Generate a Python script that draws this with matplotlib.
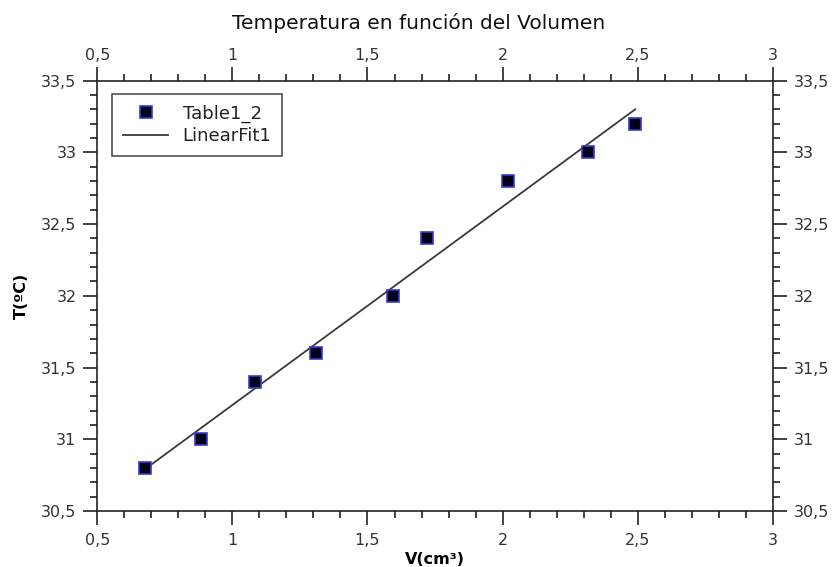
import numpy as np
import matplotlib
matplotlib.use("Agg")
import matplotlib.pyplot as plt
import matplotlib.transforms as mtransforms
from matplotlib.ticker import MultipleLocator, FuncFormatter

# data
volume = [0.677, 0.884, 1.085, 1.311, 1.596, 1.72, 2.02, 2.315, 2.491]
temperature = [30.8, 31.0, 31.4, 31.6, 32.0, 32.4, 32.8, 33.0, 33.2]

x_ticks = [0.5, 1, 1.5, 2, 2.5, 3]
y_ticks = [30.5, 31, 31.5, 32, 32.5, 33, 33.5]

# linear fit over the data
slope, intercept = np.polyfit(volume, temperature, 1)
fit_x = np.array([min(volume), max(volume)])
fit_y = slope * fit_x + intercept

fig = plt.figure(figsize=(8.37, 5.67), dpi=100)
ax = fig.add_axes([0.1163, 0.0988, 0.8069, 0.7589])

ax.plot(volume, temperature, linestyle='none', marker='s', markersize=8,
        markerfacecolor='#000018', markeredgecolor='#3a3acc', markeredgewidth=1.2,
        label='Table1_2', zorder=3)
ax.plot(fit_x, fit_y, color='#3a3a3a', linewidth=1.3, label='LinearFit1', zorder=2)

ax.set_xlim(0.5, 3)
ax.set_ylim(30.5, 33.5)
ax.set_xticks(x_ticks)
ax.set_yticks(y_ticks)
ax.xaxis.set_minor_locator(MultipleLocator(0.1))
ax.yaxis.set_minor_locator(MultipleLocator(0.1))

comma = FuncFormatter(lambda v, p: f'{v:g}'.replace('.', ','))
ax.xaxis.set_major_formatter(comma)
ax.yaxis.set_major_formatter(comma)

ax.tick_params(which='both', direction='out', top=True, right=True,
               labeltop=True, labelright=True, color='#222222', width=1.2)
ax.tick_params(which='major', length=10, labelsize=11.5, labelcolor='#333333')
ax.tick_params(which='minor', length=5)
ax.tick_params(axis='x', which='major', pad=6)
ax.tick_params(axis='y', which='major', pad=5)

# top labels sit a bit closer to the axis than the bottom ones
shift = mtransforms.ScaledTranslation(0, -5 / 100, fig.dpi_scale_trans)
for tick in ax.xaxis.get_major_ticks():
    tick.label2.set_transform(tick.label2.get_transform() + shift)

for s in ax.spines.values():
    s.set_linewidth(1.2)
    s.set_color('#222222')

ax.set_xlabel('V(cm³)', fontsize=11.5, fontweight='bold', labelpad=3)
ax.set_ylabel('T(ºC)', fontsize=11.5, fontweight='bold', labelpad=9)

fig.text(0.5, 0.960, 'Temperatura en función del Volumen', ha='center', va='center',
         fontsize=14.5, color='#111111')

leg = ax.legend(loc='upper left', bbox_to_anchor=(0.022, 0.97), frameon=True,
                fancybox=False, edgecolor='#222222', fontsize=13,
                handlelength=2.5, borderpad=0.6, labelspacing=0.25,
                handletextpad=0.8, borderaxespad=0)
leg.get_frame().set_linewidth(1.2)
for t in leg.get_texts():
    t.set_color('#222222')

plt.savefig('out.png', dpi=100)
plt.close()
